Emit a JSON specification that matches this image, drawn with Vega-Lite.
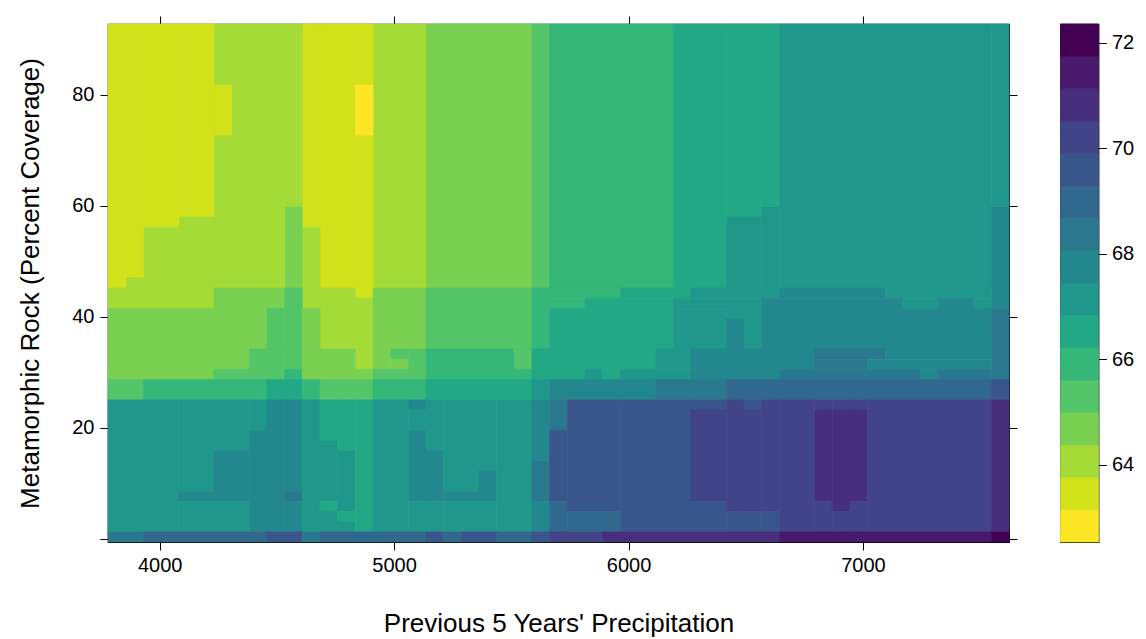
{
  "$schema": "https://vega.github.io/schema/vega-lite/v6.json",
  "background": "white",
  "padding": {"left": 17, "top": 14, "right": 4, "bottom": 4},
  "bounds": "flush",
  "spacing": 51.5,
  "resolve": {"scale": {"x": "independent", "y": "independent", "color": "independent", "stroke": "independent"}},
  "datasets": {
    "xe": [
      {"i":0,"v":3779.5},{"i":1,"v":3854.86},{"i":2,"v":3930.22},{"i":3,"v":4005.58},{"i":4,"v":4080.94},
      {"i":5,"v":4156.3},{"i":6,"v":4231.66},{"i":7,"v":4307.02},{"i":8,"v":4382.38},{"i":9,"v":4457.74},
      {"i":10,"v":4533.1},{"i":11,"v":4608.46},{"i":12,"v":4683.82},{"i":13,"v":4759.18},{"i":14,"v":4834.54},
      {"i":15,"v":4909.9},{"i":16,"v":4985.26},{"i":17,"v":5060.62},{"i":18,"v":5135.98},{"i":19,"v":5211.34},
      {"i":20,"v":5286.7},{"i":21,"v":5362.06},{"i":22,"v":5437.42},{"i":23,"v":5512.78},{"i":24,"v":5588.14},
      {"i":25,"v":5663.5},{"i":26,"v":5738.86},{"i":27,"v":5814.22},{"i":28,"v":5889.58},{"i":29,"v":5964.94},
      {"i":30,"v":6040.3},{"i":31,"v":6115.66},{"i":32,"v":6191.02},{"i":33,"v":6266.38},{"i":34,"v":6341.74},
      {"i":35,"v":6417.1},{"i":36,"v":6492.46},{"i":37,"v":6567.82},{"i":38,"v":6643.18},{"i":39,"v":6718.54},
      {"i":40,"v":6793.9},{"i":41,"v":6869.26},{"i":42,"v":6944.62},{"i":43,"v":7019.98},{"i":44,"v":7095.34},
      {"i":45,"v":7170.7},{"i":46,"v":7246.06},{"i":47,"v":7321.42},{"i":48,"v":7396.78},{"i":49,"v":7472.14},
      {"i":50,"v":7547.5},{"i":51,"v":7622.86}
    ],
    "ye": [
      {"i":0,"v":-0.58},{"i":1,"v":1.249},{"i":2,"v":3.078},{"i":3,"v":4.907},{"i":4,"v":6.736},
      {"i":5,"v":8.565},{"i":6,"v":10.394},{"i":7,"v":12.223},{"i":8,"v":14.052},{"i":9,"v":15.881},
      {"i":10,"v":17.71},{"i":11,"v":19.539},{"i":12,"v":21.368},{"i":13,"v":23.197},{"i":14,"v":25.026},
      {"i":15,"v":26.855},{"i":16,"v":28.684},{"i":17,"v":30.513},{"i":18,"v":32.342},{"i":19,"v":34.171},
      {"i":20,"v":36.0},{"i":21,"v":37.829},{"i":22,"v":39.658},{"i":23,"v":41.487},{"i":24,"v":43.316},
      {"i":25,"v":45.145},{"i":26,"v":46.974},{"i":27,"v":48.803},{"i":28,"v":50.632},{"i":29,"v":52.461},
      {"i":30,"v":54.29},{"i":31,"v":56.119},{"i":32,"v":57.948},{"i":33,"v":59.777},{"i":34,"v":61.606},
      {"i":35,"v":63.435},{"i":36,"v":65.264},{"i":37,"v":67.093},{"i":38,"v":68.922},{"i":39,"v":70.751},
      {"i":40,"v":72.58},{"i":41,"v":74.409},{"i":42,"v":76.238},{"i":43,"v":78.067},{"i":44,"v":79.896},
      {"i":45,"v":81.725},{"i":46,"v":83.554},{"i":47,"v":85.383},{"i":48,"v":87.212},{"i":49,"v":89.041},
      {"i":50,"v":90.87},{"i":51,"v":92.699}
    ],
    "cells": [
      {"c0":18,"c1":24,"r0":25,"r1":51,"z":64.68},
      {"c0":24,"c1":25,"r0":25,"r1":51,"z":65.3},
      {"c0":25,"c1":32,"r0":25,"r1":51,"z":65.91},
      {"c0":32,"c1":35,"r0":25,"r1":51,"z":66.52},
      {"c0":35,"c1":37,"r0":32,"r1":51,"z":66.52},
      {"c0":35,"c1":37,"r0":25,"r1":32,"z":67.14},
      {"c0":37,"c1":38,"r0":33,"r1":51,"z":66.52},
      {"c0":37,"c1":38,"r0":25,"r1":33,"z":67.14},
      {"c0":38,"c1":50,"r0":25,"r1":51,"z":67.14},
      {"c0":50,"c1":51,"r0":33,"r1":51,"z":67.14},
      {"c0":50,"c1":51,"r0":23,"r1":33,"z":67.75},
      {"c0":15,"c1":18,"r0":25,"r1":51,"z":64.07},
      {"c0":12,"c1":14,"r0":25,"r1":51,"z":63.45},
      {"c0":14,"c1":15,"r0":45,"r1":51,"z":63.45},
      {"c0":14,"c1":15,"r0":40,"r1":45,"z":62.84},
      {"c0":14,"c1":15,"r0":24,"r1":40,"z":63.45},
      {"c0":11,"c1":12,"r0":31,"r1":51,"z":63.45},
      {"c0":11,"c1":12,"r0":23,"r1":31,"z":64.07},
      {"c0":10,"c1":11,"r0":33,"r1":51,"z":64.07},
      {"c0":10,"c1":11,"r0":25,"r1":33,"z":64.68},
      {"c0":7,"c1":10,"r0":25,"r1":51,"z":64.07},
      {"c0":6,"c1":7,"r0":45,"r1":51,"z":64.07},
      {"c0":6,"c1":7,"r0":40,"r1":45,"z":63.45},
      {"c0":6,"c1":7,"r0":25,"r1":40,"z":64.07},
      {"c0":4,"c1":6,"r0":32,"r1":51,"z":63.45},
      {"c0":4,"c1":6,"r0":25,"r1":32,"z":64.07},
      {"c0":2,"c1":4,"r0":31,"r1":51,"z":63.45},
      {"c0":2,"c1":4,"r0":25,"r1":31,"z":64.07},
      {"c0":1,"c1":2,"r0":26,"r1":51,"z":63.45},
      {"c0":1,"c1":2,"r0":25,"r1":26,"z":64.07},
      {"c0":0,"c1":1,"r0":25,"r1":51,"z":63.45},

      {"c0":0,"c1":6,"r0":23,"r1":25,"z":64.07},
      {"c0":6,"c1":10,"r0":23,"r1":25,"z":64.68},
      {"c0":10,"c1":11,"r0":17,"r1":25,"z":65.3},
      {"c0":12,"c1":14,"r0":19,"r1":25,"z":64.07},
      {"c0":14,"c1":15,"r0":17,"r1":24,"z":64.07},
      {"c0":15,"c1":18,"r0":19,"r1":25,"z":64.68},
      {"c0":18,"c1":24,"r0":19,"r1":25,"z":65.3},
      {"c0":24,"c1":25,"r0":19,"r1":25,"z":65.91},
      {"c0":25,"c1":29,"r0":24,"r1":25,"z":65.91},
      {"c0":29,"c1":33,"r0":24,"r1":25,"z":66.52},
      {"c0":33,"c1":38,"r0":24,"r1":25,"z":67.14},
      {"c0":38,"c1":44,"r0":24,"r1":25,"z":67.75},
      {"c0":44,"c1":50,"r0":24,"r1":25,"z":67.14},
      {"c0":25,"c1":27,"r0":23,"r1":24,"z":65.91},
      {"c0":27,"c1":32,"r0":23,"r1":24,"z":66.52},
      {"c0":32,"c1":37,"r0":23,"r1":24,"z":67.14},
      {"c0":37,"c1":45,"r0":23,"r1":24,"z":67.75},
      {"c0":45,"c1":47,"r0":23,"r1":24,"z":67.14},
      {"c0":47,"c1":49,"r0":23,"r1":24,"z":67.75},
      {"c0":49,"c1":50,"r0":23,"r1":24,"z":67.14},

      {"c0":0,"c1":9,"r0":19,"r1":23,"z":64.68},
      {"c0":9,"c1":10,"r0":19,"r1":23,"z":65.3},
      {"c0":11,"c1":12,"r0":17,"r1":23,"z":64.68},
      {"c0":25,"c1":32,"r0":19,"r1":23,"z":66.52},
      {"c0":32,"c1":35,"r0":19,"r1":23,"z":67.14},
      {"c0":35,"c1":36,"r0":22,"r1":23,"z":67.14},
      {"c0":35,"c1":36,"r0":19,"r1":22,"z":67.75},
      {"c0":36,"c1":37,"r0":19,"r1":23,"z":67.14},
      {"c0":37,"c1":50,"r0":19,"r1":23,"z":67.75},
      {"c0":50,"c1":51,"r0":16,"r1":23,"z":68.37},

      {"c0":0,"c1":8,"r0":17,"r1":19,"z":64.68},
      {"c0":8,"c1":10,"r0":17,"r1":19,"z":65.3},
      {"c0":12,"c1":14,"r0":17,"r1":19,"z":64.68},
      {"c0":15,"c1":16,"r0":17,"r1":19,"z":64.68},
      {"c0":16,"c1":17,"r0":18,"r1":19,"z":65.3},
      {"c0":16,"c1":17,"r0":17,"r1":18,"z":64.68},
      {"c0":17,"c1":18,"r0":17,"r1":19,"z":65.3},
      {"c0":18,"c1":23,"r0":17,"r1":19,"z":65.91},
      {"c0":23,"c1":24,"r0":17,"r1":19,"z":65.3},
      {"c0":24,"c1":31,"r0":17,"r1":19,"z":66.52},
      {"c0":31,"c1":33,"r0":17,"r1":19,"z":67.14},
      {"c0":33,"c1":40,"r0":17,"r1":19,"z":67.75},
      {"c0":40,"c1":44,"r0":18,"r1":19,"z":68.37},
      {"c0":44,"c1":50,"r0":18,"r1":19,"z":67.75},
      {"c0":40,"c1":43,"r0":17,"r1":18,"z":68.37},
      {"c0":43,"c1":50,"r0":17,"r1":18,"z":67.75},

      {"c0":0,"c1":6,"r0":16,"r1":17,"z":64.68},
      {"c0":6,"c1":10,"r0":16,"r1":17,"z":65.3},
      {"c0":10,"c1":11,"r0":16,"r1":17,"z":65.91},
      {"c0":11,"c1":15,"r0":16,"r1":17,"z":64.68},
      {"c0":15,"c1":18,"r0":16,"r1":17,"z":65.3},
      {"c0":18,"c1":24,"r0":16,"r1":17,"z":65.91},
      {"c0":24,"c1":27,"r0":16,"r1":17,"z":66.52},
      {"c0":27,"c1":28,"r0":16,"r1":17,"z":67.14},
      {"c0":28,"c1":29,"r0":16,"r1":17,"z":66.52},
      {"c0":29,"c1":33,"r0":16,"r1":17,"z":67.14},
      {"c0":33,"c1":38,"r0":16,"r1":17,"z":67.75},
      {"c0":38,"c1":46,"r0":16,"r1":17,"z":68.37},
      {"c0":46,"c1":47,"r0":16,"r1":17,"z":67.75},
      {"c0":47,"c1":50,"r0":16,"r1":17,"z":68.37},

      {"c0":0,"c1":2,"r0":14,"r1":16,"z":65.3},
      {"c0":2,"c1":9,"r0":14,"r1":16,"z":65.91},
      {"c0":9,"c1":11,"r0":14,"r1":16,"z":66.52},
      {"c0":11,"c1":12,"r0":14,"r1":16,"z":65.91},
      {"c0":12,"c1":15,"r0":14,"r1":16,"z":65.3},
      {"c0":15,"c1":18,"r0":14,"r1":16,"z":65.91},
      {"c0":18,"c1":24,"r0":14,"r1":16,"z":66.52},
      {"c0":24,"c1":25,"r0":14,"r1":16,"z":67.14},
      {"c0":25,"c1":31,"r0":14,"r1":16,"z":67.75},
      {"c0":31,"c1":35,"r0":14,"r1":16,"z":68.37},
      {"c0":35,"c1":50,"r0":14,"r1":16,"z":68.98},
      {"c0":50,"c1":51,"r0":14,"r1":16,"z":69.6},

      {"c0":0,"c1":4,"r0":1,"r1":14,"z":67.14},
      {"c0":4,"c1":6,"r0":5,"r1":14,"z":67.14},
      {"c0":4,"c1":6,"r0":4,"r1":5,"z":67.75},
      {"c0":4,"c1":6,"r0":1,"r1":4,"z":67.14},
      {"c0":6,"c1":8,"r0":9,"r1":14,"z":67.14},
      {"c0":6,"c1":8,"r0":4,"r1":9,"z":67.75},
      {"c0":6,"c1":8,"r0":1,"r1":4,"z":67.14},
      {"c0":8,"c1":9,"r0":11,"r1":14,"z":67.14},
      {"c0":8,"c1":9,"r0":1,"r1":11,"z":67.75},
      {"c0":9,"c1":10,"r0":1,"r1":14,"z":67.75},
      {"c0":10,"c1":11,"r0":5,"r1":14,"z":67.75},
      {"c0":10,"c1":11,"r0":4,"r1":5,"z":68.37},
      {"c0":10,"c1":11,"r0":1,"r1":4,"z":67.75},
      {"c0":11,"c1":12,"r0":1,"r1":14,"z":67.14},
      {"c0":12,"c1":13,"r0":10,"r1":14,"z":66.52},
      {"c0":12,"c1":13,"r0":4,"r1":10,"z":67.14},
      {"c0":12,"c1":13,"r0":3,"r1":4,"z":66.52},
      {"c0":12,"c1":13,"r0":1,"r1":3,"z":67.14},
      {"c0":13,"c1":14,"r0":9,"r1":14,"z":66.52},
      {"c0":13,"c1":14,"r0":3,"r1":9,"z":67.14},
      {"c0":13,"c1":14,"r0":2,"r1":3,"z":66.52},
      {"c0":13,"c1":14,"r0":1,"r1":2,"z":67.14},
      {"c0":14,"c1":15,"r0":1,"r1":14,"z":66.52},
      {"c0":15,"c1":17,"r0":1,"r1":14,"z":67.14},
      {"c0":17,"c1":18,"r0":13,"r1":14,"z":67.75},
      {"c0":17,"c1":18,"r0":11,"r1":13,"z":67.14},
      {"c0":17,"c1":18,"r0":4,"r1":11,"z":67.75},
      {"c0":17,"c1":18,"r0":1,"r1":4,"z":67.14},
      {"c0":18,"c1":19,"r0":9,"r1":14,"z":67.14},
      {"c0":18,"c1":19,"r0":4,"r1":9,"z":67.75},
      {"c0":18,"c1":19,"r0":1,"r1":4,"z":67.14},
      {"c0":19,"c1":21,"r0":5,"r1":14,"z":67.14},
      {"c0":19,"c1":21,"r0":4,"r1":5,"z":67.75},
      {"c0":19,"c1":21,"r0":1,"r1":4,"z":67.14},
      {"c0":21,"c1":22,"r0":7,"r1":14,"z":67.14},
      {"c0":21,"c1":22,"r0":4,"r1":7,"z":67.75},
      {"c0":21,"c1":22,"r0":1,"r1":4,"z":67.14},
      {"c0":22,"c1":24,"r0":1,"r1":14,"z":67.14},
      {"c0":24,"c1":25,"r0":8,"r1":14,"z":67.75},
      {"c0":24,"c1":25,"r0":4,"r1":8,"z":68.37},
      {"c0":24,"c1":25,"r0":1,"r1":4,"z":67.75},
      {"c0":25,"c1":26,"r0":11,"r1":14,"z":68.37},
      {"c0":25,"c1":26,"r0":4,"r1":11,"z":69.6},
      {"c0":25,"c1":26,"r0":1,"r1":4,"z":68.98},
      {"c0":26,"c1":29,"r0":3,"r1":14,"z":69.6},
      {"c0":26,"c1":29,"r0":1,"r1":3,"z":68.98},
      {"c0":29,"c1":33,"r0":1,"r1":14,"z":69.6},
      {"c0":33,"c1":35,"r0":13,"r1":14,"z":69.6},
      {"c0":33,"c1":35,"r0":4,"r1":13,"z":70.21},
      {"c0":33,"c1":35,"r0":1,"r1":4,"z":69.6},
      {"c0":35,"c1":36,"r0":3,"r1":14,"z":70.21},
      {"c0":35,"c1":36,"r0":1,"r1":3,"z":69.6},
      {"c0":36,"c1":37,"r0":13,"r1":14,"z":69.6},
      {"c0":36,"c1":37,"r0":3,"r1":13,"z":70.21},
      {"c0":36,"c1":37,"r0":1,"r1":3,"z":69.6},
      {"c0":37,"c1":38,"r0":3,"r1":14,"z":70.21},
      {"c0":37,"c1":38,"r0":1,"r1":3,"z":69.6},
      {"c0":38,"c1":40,"r0":1,"r1":14,"z":70.21},
      {"c0":40,"c1":41,"r0":13,"r1":14,"z":70.21},
      {"c0":40,"c1":41,"r0":4,"r1":13,"z":70.82},
      {"c0":40,"c1":41,"r0":1,"r1":4,"z":70.21},
      {"c0":41,"c1":42,"r0":13,"r1":14,"z":70.21},
      {"c0":41,"c1":42,"r0":3,"r1":13,"z":70.82},
      {"c0":41,"c1":42,"r0":1,"r1":3,"z":70.21},
      {"c0":42,"c1":43,"r0":13,"r1":14,"z":70.21},
      {"c0":42,"c1":43,"r0":4,"r1":13,"z":70.82},
      {"c0":42,"c1":43,"r0":1,"r1":4,"z":70.21},
      {"c0":43,"c1":50,"r0":1,"r1":14,"z":70.21},
      {"c0":50,"c1":51,"r0":1,"r1":14,"z":70.82},

      {"c0":0,"c1":2,"r0":0,"r1":1,"z":68.37},
      {"c0":2,"c1":9,"r0":0,"r1":1,"z":68.98},
      {"c0":9,"c1":11,"r0":0,"r1":1,"z":69.6},
      {"c0":11,"c1":12,"r0":0,"r1":1,"z":68.37},
      {"c0":12,"c1":18,"r0":0,"r1":1,"z":68.98},
      {"c0":18,"c1":19,"r0":0,"r1":1,"z":69.6},
      {"c0":19,"c1":20,"r0":0,"r1":1,"z":68.98},
      {"c0":20,"c1":22,"r0":0,"r1":1,"z":69.6},
      {"c0":22,"c1":24,"r0":0,"r1":1,"z":68.98},
      {"c0":24,"c1":25,"r0":0,"r1":1,"z":69.6},
      {"c0":25,"c1":28,"r0":0,"r1":1,"z":70.21},
      {"c0":28,"c1":38,"r0":0,"r1":1,"z":70.82},
      {"c0":38,"c1":50,"r0":0,"r1":1,"z":71.44},
      {"c0":50,"c1":51,"r0":0,"r1":1,"z":72.05}
    ],
    "key": [
      {"lo":62.53,"hi":63.144,"z":62.84},{"lo":63.144,"hi":63.759,"z":63.45},
      {"lo":63.759,"hi":64.373,"z":64.07},{"lo":64.373,"hi":64.988,"z":64.68},
      {"lo":64.988,"hi":65.602,"z":65.3},{"lo":65.602,"hi":66.216,"z":65.91},
      {"lo":66.216,"hi":66.831,"z":66.52},{"lo":66.831,"hi":67.445,"z":67.14},
      {"lo":67.445,"hi":68.059,"z":67.75},{"lo":68.059,"hi":68.674,"z":68.37},
      {"lo":68.674,"hi":69.288,"z":68.98},{"lo":69.288,"hi":69.903,"z":69.6},
      {"lo":69.903,"hi":70.517,"z":70.21},{"lo":70.517,"hi":71.131,"z":70.82},
      {"lo":71.131,"hi":71.746,"z":71.44},{"lo":71.746,"hi":72.36,"z":72.05}
    ]
  },
  "hconcat": [
    {
      "width": 901,
      "height": 518,
      "data": {"name": "cells"},
      "transform": [
        {"lookup": "c0", "from": {"data": {"name": "xe"}, "key": "i", "fields": ["v"]}, "as": ["xa"]},
        {"lookup": "c1", "from": {"data": {"name": "xe"}, "key": "i", "fields": ["v"]}, "as": ["xb"]},
        {"lookup": "r0", "from": {"data": {"name": "ye"}, "key": "i", "fields": ["v"]}, "as": ["ya"]},
        {"lookup": "r1", "from": {"data": {"name": "ye"}, "key": "i", "fields": ["v"]}, "as": ["yb"]}
      ],
      "layer": [
        {
          "mark": {"type": "rect", "strokeWidth": 0.7},
          "encoding": {
            "x": {
              "field": "xa", "type": "quantitative",
              "scale": {"domain": [3779.5, 7622.86], "nice": false, "zero": false},
              "axis": {"orient": "bottom", "values": [4000, 5000, 6000, 7000], "format": "d",
                       "title": "Previous 5 Years' Precipitation", "labelPadding": 5, "titlePadding": 35}
            },
            "x2": {"field": "xb"},
            "y": {
              "field": "ya", "type": "quantitative",
              "scale": {"domain": [-0.58, 92.699], "nice": false, "zero": false},
              "axis": {"orient": "left", "values": [0, 20, 40, 60, 80],
                       "labelExpr": "datum.value == 0 ? '' : datum.label",
                       "title": "Metamorphic Rock (Percent Coverage)", "labelPadding": 6, "titlePadding": 28}
            },
            "y2": {"field": "yb"},
            "color": {
              "field": "z", "type": "quantitative", "legend": null,
              "scale": {
                "type": "threshold",
                "domain": [63.144, 63.759, 64.373, 64.988, 65.602, 66.216, 66.831, 67.445, 68.059, 68.674, 69.288, 69.903, 70.517, 71.131, 71.746],
                "range": ["#FDE725", "#D2E21B", "#A5DB36", "#7AD151", "#54C568", "#35B779", "#22A884", "#1F988B", "#23888E", "#2A788E", "#31688E", "#39568C", "#414487", "#472F7D", "#481A6C", "#440154"]
              }
            },
            "stroke": {
              "field": "z", "type": "quantitative", "legend": null,
              "scale": {
                "type": "threshold",
                "domain": [63.144, 63.759, 64.373, 64.988, 65.602, 66.216, 66.831, 67.445, 68.059, 68.674, 69.288, 69.903, 70.517, 71.131, 71.746],
                "range": ["#FDE725", "#D2E21B", "#A5DB36", "#7AD151", "#54C568", "#35B779", "#22A884", "#1F988B", "#23888E", "#2A788E", "#31688E", "#39568C", "#414487", "#472F7D", "#481A6C", "#440154"]
              }
            }
          }
        },
        {
          "mark": {"type": "rect", "opacity": 0},
          "encoding": {
            "x": {"field": "xa", "type": "quantitative",
                  "axis": {"orient": "top", "values": [4000, 5000, 6000, 7000], "labels": false, "title": null}},
            "x2": {"field": "xb"},
            "y": {"field": "ya", "type": "quantitative",
                  "axis": {"orient": "right", "values": [0, 20, 40, 60, 80], "labels": false, "title": null}},
            "y2": {"field": "yb"}
          }
        }
      ],
      "resolve": {"axis": {"x": "independent", "y": "independent"}}
    },
    {
      "width": 38,
      "height": 518,
      "data": {"name": "key"},
      "mark": {"type": "rect", "strokeWidth": 0.7},
      "encoding": {
        "x": {"value": 0},
        "x2": {"value": "width"},
        "y": {
          "field": "lo", "type": "quantitative",
          "scale": {"domain": [62.53, 72.36], "nice": false, "zero": false},
          "axis": {"orient": "right", "values": [64, 66, 68, 70, 72], "title": null, "labelPadding": 5}
        },
        "y2": {"field": "hi"},
        "color": {
          "field": "z", "type": "quantitative", "legend": null,
          "scale": {
            "type": "threshold",
            "domain": [63.144, 63.759, 64.373, 64.988, 65.602, 66.216, 66.831, 67.445, 68.059, 68.674, 69.288, 69.903, 70.517, 71.131, 71.746],
            "range": ["#FDE725", "#D2E21B", "#A5DB36", "#7AD151", "#54C568", "#35B779", "#22A884", "#1F988B", "#23888E", "#2A788E", "#31688E", "#39568C", "#414487", "#472F7D", "#481A6C", "#440154"]
          }
        },
        "stroke": {
          "field": "z", "type": "quantitative", "legend": null,
          "scale": {
            "type": "threshold",
            "domain": [63.144, 63.759, 64.373, 64.988, 65.602, 66.216, 66.831, 67.445, 68.059, 68.674, 69.288, 69.903, 70.517, 71.131, 71.746],
            "range": ["#FDE725", "#D2E21B", "#A5DB36", "#7AD151", "#54C568", "#35B779", "#22A884", "#1F988B", "#23888E", "#2A788E", "#31688E", "#39568C", "#414487", "#472F7D", "#481A6C", "#440154"]
          }
        }
      }
    }
  ],
  "config": {
    "view": {"stroke": "#000", "strokeWidth": 1.2},
    "axis": {
      "domain": false,
      "grid": false,
      "ticks": true,
      "tickSize": 8,
      "tickColor": "#000",
      "tickWidth": 1,
      "labelFont": "Liberation Sans",
      "labelFontSize": 20,
      "labelColor": "#000",
      "titleFont": "Liberation Sans",
      "titleFontSize": 26,
      "titleFontWeight": "normal",
      "titleColor": "#000"
    }
  }
}
